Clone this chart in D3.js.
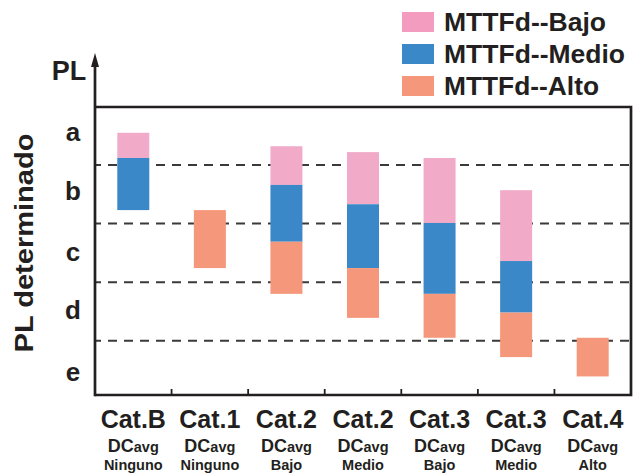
<!DOCTYPE html>
<html>
<head>
<meta charset="utf-8">
<script src="https://cdn.jsdelivr.net/npm/d3@7"></script>
<style>
  body { margin: 0; background: #fff; }
  svg text { font-family: "Liberation Sans", Arial, sans-serif; fill: #231f20; }
</style>
</head>
<body>
<div id="chart"></div>
<script>
// categories along x
var categories = ["Cat.B", "Cat.1", "Cat.2", "Cat.2", "Cat.3", "Cat.3", "Cat.4"];
var dc_levels = ["Ninguno", "Ninguno", "Bajo", "Medio", "Bajo", "Medio", "Alto"];

// PL levels, a = best (top)
var pl_labels = ["a", "b", "c", "d", "e"];
var pl_mid = [4.55, 3.55, 2.5, 1.52, 0.45];
var pl_bounds = [4, 3, 2, 1];

// [low, high] ranges on the PL scale, null = no bar
var mttfd_bajo  = [[4.12, 4.55], null, [3.66, 4.32], [3.33, 4.22], [3.01, 4.12], [2.36, 3.57], null];
var mttfd_medio = [[3.23, 4.12], null, [2.69, 3.66], [2.24, 3.33], [1.80, 3.01], [1.48, 2.36], null];
var mttfd_alto  = [null, [2.24, 3.23], [1.80, 2.69], [1.39, 2.24], [1.05, 1.80], [0.72, 1.48], [0.39, 1.05]];

var series_names = ["MTTFd--Bajo", "MTTFd--Medio", "MTTFd--Alto"];
var bar_colours = ["#f1aac8", "#3a88c8", "#f5977a"];
var legend_colours = ["#f49bc0", "#3a88c8", "#f5977a"];

var width = 639, height = 475;
var m_left = 95, m_right = 631, m_top = 107, m_bottom = 395;

var svg = d3.select("#chart").append("svg")
    .attr("width", width)
    .attr("height", height);

var x = d3.scaleBand()
    .domain(d3.range(categories.length))
    .range([m_left, m_right]);

var y = d3.scaleLinear()
    .domain([1, 4])
    .range([340.7, 165]);

// dashed level lines
svg.selectAll(".grid")
    .data(pl_bounds)
    .enter()
    .append("line")
    .attr("x1", m_left)
    .attr("x2", m_right)
    .attr("y1", function(d) { return y(d); })
    .attr("y2", function(d) { return y(d); })
    .attr("stroke", "#3a3a3a")
    .attr("stroke-width", 2)
    .attr("stroke-dasharray", "9,7")
    .attr("stroke-dashoffset", 3);

// bars
var all_series = [mttfd_bajo, mttfd_medio, mttfd_alto];
var bar_w = 32;
all_series.forEach(function(s, k) {
    svg.selectAll(".bar" + k)
        .data(s.map(function(d, i) { return { i: i, r: d }; }).filter(function(d) { return d.r; }))
        .enter()
        .append("rect")
        .attr("x", function(d) { return x(d.i) + x.bandwidth() / 2 - bar_w / 2; })
        .attr("y", function(d) { return y(d.r[1]); })
        .attr("width", bar_w)
        .attr("height", function(d) { return y(d.r[0]) - y(d.r[1]); })
        .attr("fill", bar_colours[k]);
});

// frame
var frame = svg.append("g")
    .attr("stroke", "#231f20")
    .attr("stroke-width", 2.7)
    .attr("fill", "none");

frame.append("path")
    .attr("d", "M" + m_left + "," + m_top + "H" + m_right + "V" + m_bottom + "H" + m_left);

frame.append("line")
    .attr("x1", m_left).attr("x2", m_left)
    .attr("y1", 62).attr("y2", m_bottom + 1.3);

svg.append("path")
    .attr("d", "M" + m_left + ",53 L" + (m_left - 4) + ",67 L" + (m_left + 4) + ",67 Z")
    .attr("fill", "#231f20");

// ticks between categories (pointing up)
svg.selectAll(".tick")
    .data(d3.range(1, categories.length))
    .enter()
    .append("line")
    .attr("x1", function(d) { return x(d); })
    .attr("x2", function(d) { return x(d); })
    .attr("y1", m_bottom)
    .attr("y2", m_bottom - 6)
    .attr("stroke", "#231f20")
    .attr("stroke-width", 1.8);

// y level labels
svg.selectAll(".pl")
    .data(pl_labels)
    .enter()
    .append("text")
    .text(function(d) { return d; })
    .attr("x", 73)
    .attr("y", function(d, i) { return y(pl_mid[i]); })
    .attr("dy", "0.32em")
    .attr("text-anchor", "middle")
    .style("font-size", "26px")
    .style("font-weight", "bold");

svg.append("text")
    .text("PL")
    .attr("x", 69)
    .attr("y", 80)
    .attr("text-anchor", "middle")
    .style("font-size", "27px")
    .style("font-weight", "bold");

svg.append("text")
    .text("PL determinado")
    .attr("transform", "translate(33,243) rotate(-90)")
    .attr("text-anchor", "middle")
    .attr("textLength", 219)
    .attr("lengthAdjust", "spacingAndGlyphs")
    .style("font-size", "26px")
    .style("font-weight", "bold");

// x labels
var xl = svg.selectAll(".xl")
    .data(categories)
    .enter()
    .append("g")
    .attr("transform", function(d, i) { return "translate(" + (x(i) + x.bandwidth() / 2) + ",0)"; });

xl.append("text")
    .text(function(d) { return d; })
    .attr("y", 428)
    .attr("text-anchor", "middle")
    .style("font-size", "25px")
    .style("font-weight", "bold");

var dc = xl.append("text")
    .attr("y", 452)
    .attr("text-anchor", "middle")
    .style("font-weight", "bold");
dc.append("tspan").text("DC").style("font-size", "18px");
dc.append("tspan").text("avg").style("font-size", "14.5px");

xl.append("text")
    .text(function(d, i) { return dc_levels[i]; })
    .attr("y", 470)
    .attr("text-anchor", "middle")
    .style("font-size", "14.5px")
    .style("font-weight", "bold");

// legend
var legend_len = [162, 181, 155];
var legend = svg.selectAll(".legend")
    .data(series_names)
    .enter()
    .append("g")
    .attr("transform", function(d, i) { return "translate(402," + (12 + i * 32) + ")"; });

legend.append("rect")
    .attr("width", 32)
    .attr("height", 20)
    .attr("fill", function(d, i) { return legend_colours[i]; });

legend.append("text")
    .text(function(d) { return d; })
    .attr("x", 42)
    .attr("y", 10)
    .attr("dy", "0.36em")
    .attr("textLength", function(d, i) { return legend_len[i]; })
    .attr("lengthAdjust", "spacingAndGlyphs")
    .style("font-size", "25px")
    .style("font-weight", "bold");
</script>
</body>
</html>
